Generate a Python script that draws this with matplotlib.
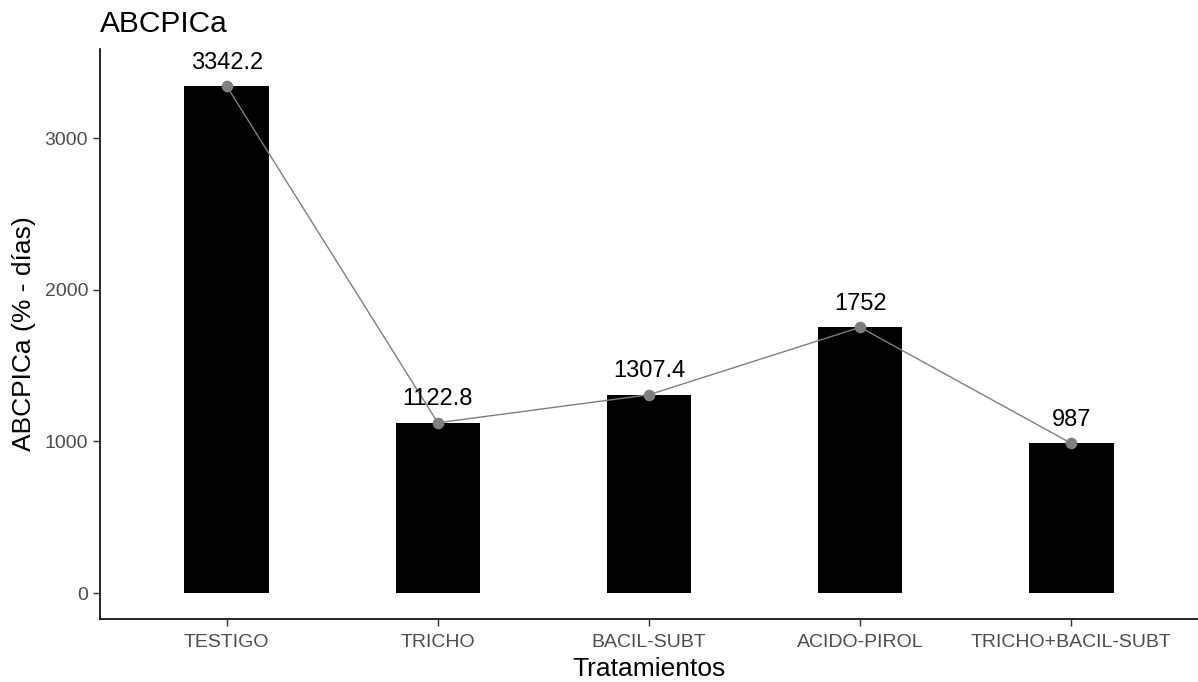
import matplotlib.pyplot as plt
import numpy as np

# Data
tratamientos = ['TESTIGO', 'TRICHO', 'BACIL-SUBT', 'ACIDO-PIROL', 'TRICHO+BACIL-SUBT']
abcpica = [3342.2, 1122.8, 1307.4, 1752, 987]
etiquetas = ['3342.2', '1122.8', '1307.4', '1752', '987']


def create_chart():
    plt.rcParams['font.family'] = ['Liberation Sans', 'DejaVu Sans']
    fig = plt.figure(figsize=(11.98, 6.82), dpi=100)
    ax = fig.add_axes([100 / 1198, 63 / 682, 1098 / 1198, 570 / 682])

    x = np.arange(len(tratamientos))
    ax.bar(x, abcpica, width=0.4, color='black')
    ax.plot(x, abcpica, color='#7f7f7f', linewidth=1, zorder=3)
    ax.scatter(x, abcpica, s=70, color='#7f7f7f', zorder=4, linewidths=0)

    # Value labels above points
    for xi, yi, lab in zip(x, abcpica, etiquetas):
        ax.annotate(lab, (xi, yi), xytext=(0, 9), textcoords='offset points',
                    ha='center', va='bottom', fontsize=17, color='black')

    ax.set_xlim(-0.6, len(tratamientos) - 0.4)
    ax.set_ylim(-171, 3587)
    ax.set_xticks(x)
    ax.set_xticklabels(tratamientos)
    ax.set_yticks([0, 1000, 2000, 3000])

    ax.tick_params(axis='both', labelsize=14, labelcolor='#4d4d4d',
                   color='#333333', length=5, width=1)
    ax.tick_params(axis='x', pad=6)
    for side in ['top', 'right']:
        ax.spines[side].set_visible(False)
    for side in ['left', 'bottom']:
        ax.spines[side].set_linewidth(1.2)
        ax.spines[side].set_color('black')

    ax.set_xlabel('Tratamientos', fontsize=19, labelpad=4)
    ax.set_ylabel('ABCPICa (% - días)', fontsize=19, labelpad=6)
    ax.set_title('ABCPICa', fontsize=21.5, loc='left', pad=12)

    fig.savefig('out.png', dpi=100)
    plt.close(fig)


def main():
    create_chart()


if __name__ == "__main__":
    main()
